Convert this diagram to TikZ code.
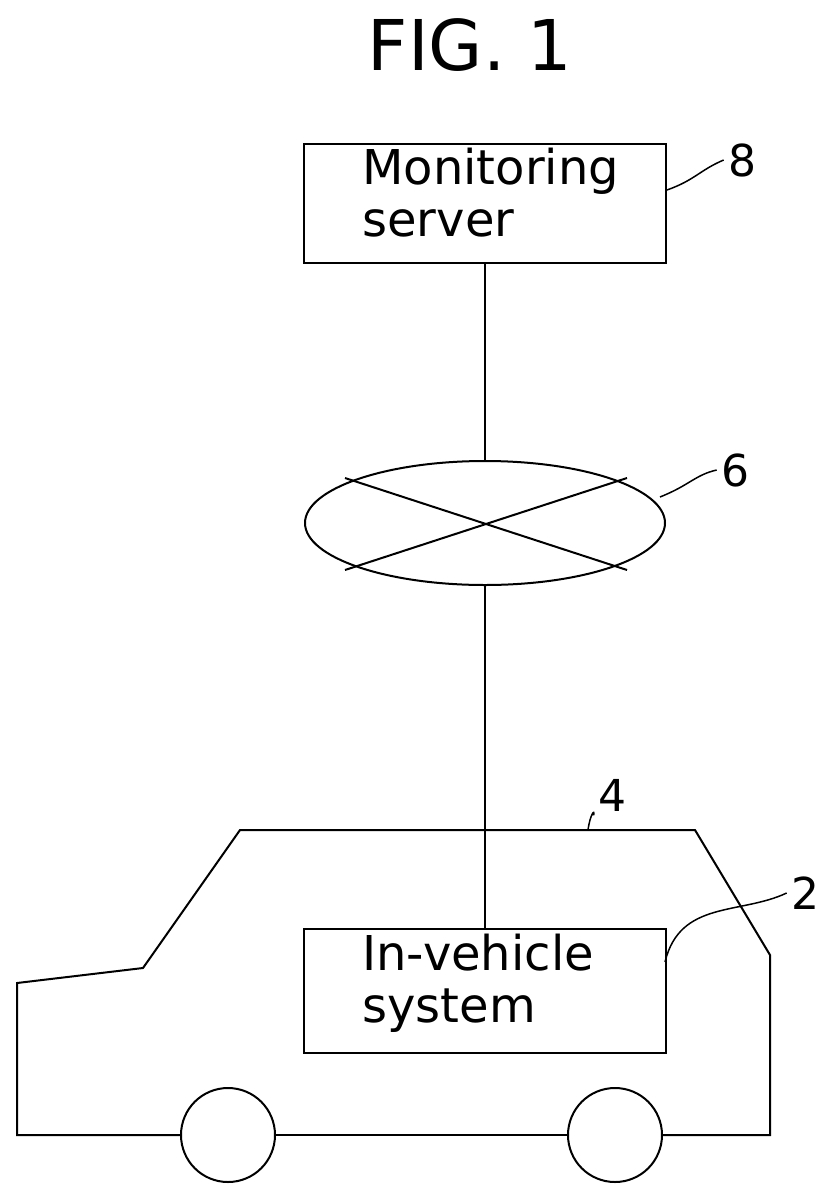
\documentclass[tikz,border=0pt]{standalone}
\usepackage{fontspec}
\setmainfont{DejaVu Sans}
\usetikzlibrary{shapes.geometric}
\begin{document}
\begin{tikzpicture}[x=1pt,y=-1pt,line width=2pt,
  box/.style={draw,minimum width=362pt,minimum height=119pt,inner sep=0pt},
  txt/.style={font=\fontsize{48}{52}\selectfont,align=left,anchor=north west},
  lbl/.style={font=\fontsize{44}{46}\selectfont}]
\useasboundingbox (0,0) rectangle (831,1203);
\node[font=\fontsize{70}{72}\selectfont] (title) at (470,45) {FIG. 1};
\node[box,anchor=north west] (srv) at (303,143) {};
\node[txt] (srvt) at (358,144) {Monitoring\\server};
\node[draw,ellipse,minimum width=360pt,minimum height=124pt,inner sep=0pt] (net) at (485,523) {};
\draw (345,478) -- (627,570);
\draw (345,570) -- (627,478);
\node[box,anchor=north west,minimum height=124pt] (ivs) at (303,928) {};
\node[txt] (ivst) at (358,930) {In-vehicle\\system};
\draw (srv.south) -- (net.north);
\draw (net.south) -- (ivs.north);
\coordinate (w1l) at (181,1135); \coordinate (w1r) at (275,1135);
\coordinate (w2l) at (568,1135); \coordinate (w2r) at (662,1135);
\draw (w1l) -- (17,1135) -- (17,983) -- (143,968) -- (240,830) -- (695,830) -- (770,955) -- (770,1135) -- (w2r);
\draw (w2l) -- (w1r);
\node[draw,circle,minimum size=94pt,inner sep=0pt] (wh1) at (228,1135) {};
\node[draw,circle,minimum size=94pt,inner sep=0pt] (wh2) at (615,1135) {};
\node[lbl] (l8) at (742,160) {8};
\node[lbl] (l6) at (735,470) {6};
\node[lbl] (l4) at (612,795) {4};
\node[lbl] (l2) at (805,893) {2};
\draw[line width=1.5pt] (667,190) .. controls (695,180) and (700,170) .. (l8.west);
\draw[line width=1.5pt] (660,497) .. controls (690,485) and (695,475) .. (l6.west);
\draw[line width=1.5pt] (588,830) .. controls (590,815) and (595,808) .. (l4.south west);
\draw[line width=1.5pt] (665,962) .. controls (680,900) and (740,915) .. (l2.west);
\end{tikzpicture}
\end{document}
